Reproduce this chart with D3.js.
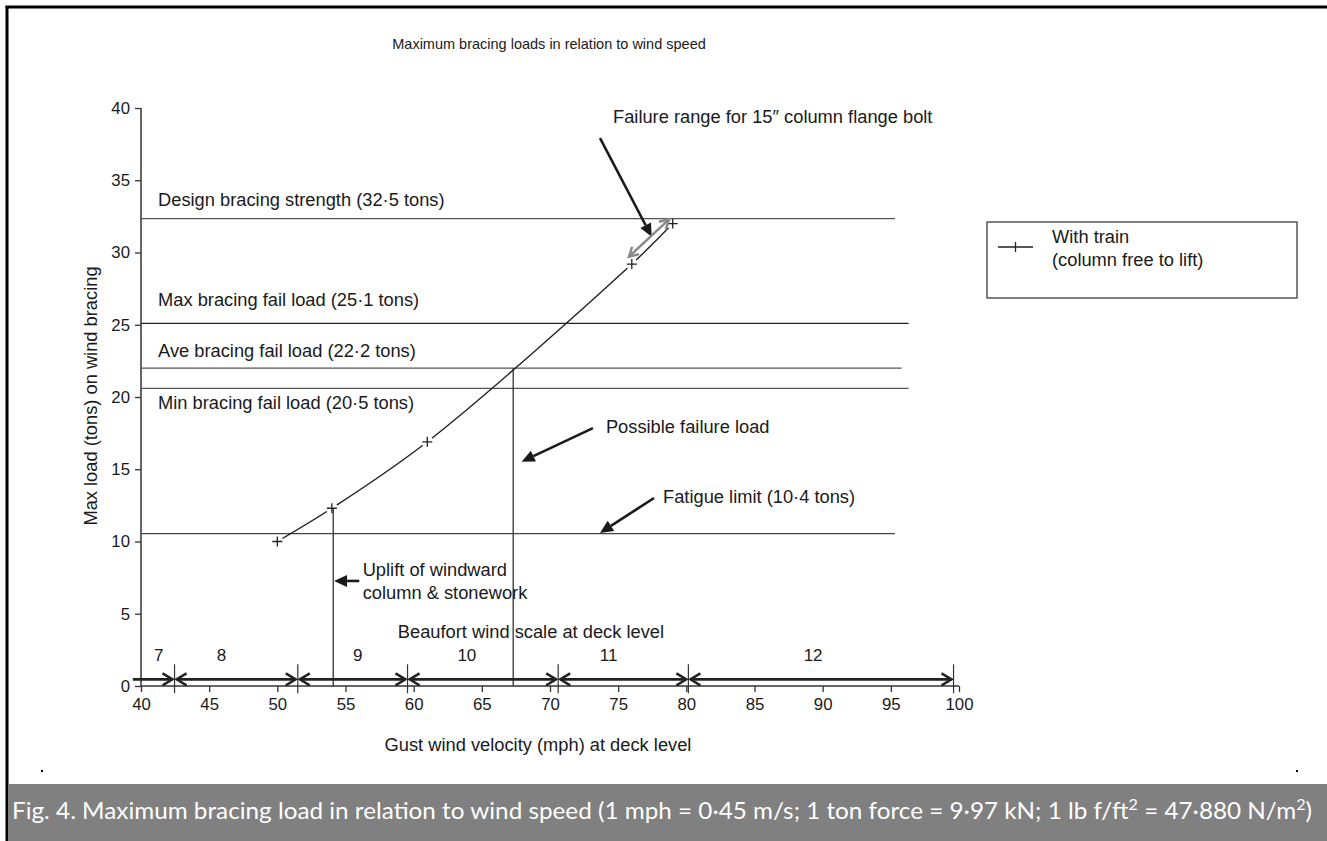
<!DOCTYPE html>
<html>
<head>
<meta charset="utf-8">
<script src="https://cdn.jsdelivr.net/npm/d3@7"></script>
<style>
  html, body { margin: 0; padding: 0; background: #fff; }
  svg { display: block; }
  text { font-family: "Liberation Sans", Arial, Helvetica, sans-serif; fill: #1a1a1a; }
</style>
</head>
<body>
<svg id="chart" width="1327" height="841"></svg>
<script>
// ---------------- DATA ----------------
const titleText = "Maximum bracing loads in relation to wind speed";
const xTicks = [40, 45, 50, 55, 60, 65, 70, 75, 80, 85, 90, 95, 100];
const yTicks = [0, 5, 10, 15, 20, 25, 30, 35, 40];

// "With train (column free to lift)" series
const windSpeed = [50, 54, 61, 76, 79];
const maxLoad   = [10.0, 12.3, 16.9, 29.2, 32.0];

// Horizontal reference loads (tons)
const refNames  = ["Design bracing strength (32·5 tons)", "Max bracing fail load (25·1 tons)",
                   "Ave bracing fail load (22·2 tons)", "Min bracing fail load (20·5 tons)", ""];
const refLoads  = [32.35, 25.1, 22.0, 20.6, 10.55];
const refEnds   = [95.3, 96.3, 95.8, 96.3, 95.3];
const refColors = ["#555", "#222", "#555", "#555", "#444"];
const refLabelY = [33.2, 26.3, 22.77, 19.17, null];

// Vertical markers (mph, from load down to 0)
const vertX    = [54.1, 67.3];
const vertTop  = [12.3, 22.0];

// Beaufort scale
const beaufortNums   = ["7", "8", "9", "10", "11", "12"];
const beaufortBounds = [39.4, 42.46, 51.5, 59.55, 70.6, 80.15, 99.6];
const beaufortLabelX = [41.3, 45.9, 55.9, 63.9, 74.3, 89.3];

// Annotation arrows [x1,y1] -> [x2,y2] in data units (tip at second point)
const noteArrows = [
  [[73.67, 37.92], [77.46, 31.09]],   // flange bolt
  [[73.15, 17.85], [67.92, 15.52]],   // possible failure load
  [[77.63, 13.01], [73.67, 10.59]],   // fatigue limit
  [[56.01, 7.27],  [54.16, 7.27]]     // uplift
];
const failRange = [[75.79, 29.71], [78.73, 32.30]];

const noteTexts = [
  {t: "Failure range for 15″ column flange bolt", x: 74.62, y: 38.96},
  {t: "Possible failure load", x: 74.1, y: 17.5},
  {t: "Fatigue limit (10·4 tons)", x: 78.29, y: 12.66},
  {t: "Uplift of windward", x: 56.26, y: 7.61},
  {t: "column & stonework", x: 56.26, y: 6.02},
  {t: "Beaufort wind scale at deck level", x: 68.6, y: 3.32, anchor: "middle"}
];

// ---------------- DRAW ----------------
const FS = 18.3;
const svg = d3.select("#chart");
const x = d3.scaleLinear().domain([40, 100]).range([141, 959]);
const y = d3.scaleLinear().domain([0, 40]).range([686, 108]);

// outer frame
svg.append("line").attr("x1", 7).attr("x2", 7).attr("y1", 6).attr("y2", 841)
  .attr("stroke", "#000").attr("stroke-width", 3);
svg.append("line").attr("x1", 5.5).attr("x2", 1327).attr("y1", 7).attr("y2", 7)
  .attr("stroke", "#000").attr("stroke-width", 3);

// title
svg.append("text").attr("x", 549).attr("y", 49).attr("text-anchor", "middle")
  .attr("font-size", 14.5).text(titleText);

// axes
const xAxis = svg.append("g").attr("transform", `translate(0,${y(0)})`)
  .call(d3.axisBottom(x).tickValues(xTicks).tickSize(6).tickPadding(6).tickFormat(d3.format("d")));
const yAxis = svg.append("g").attr("transform", `translate(${x(40)},0)`)
  .call(d3.axisLeft(y).tickValues(yTicks).tickSize(6).tickPadding(5).tickFormat(d3.format("d")));
[xAxis, yAxis].forEach(a => {
  a.select(".domain").attr("stroke", "#333").attr("stroke-width", 1.5);
  a.selectAll(".tick line").attr("stroke", "#333").attr("stroke-width", 1.3);
  a.selectAll(".tick text").attr("font-size", 16.8).attr("fill", "#1a1a1a")
    .attr("font-family", "Liberation Sans, Arial, sans-serif");
});
xAxis.select(".domain").attr("d", `M${x(40)},0H${x(100)}`);
yAxis.select(".domain").attr("d", `M0,${y(40)}V${y(0)}`);

// axis titles
svg.append("text").attr("x", 538).attr("y", 751).attr("text-anchor", "middle")
  .attr("font-size", FS).text("Gust wind velocity (mph) at deck level");
svg.append("text").attr("transform", "translate(97,396) rotate(-90)").attr("text-anchor", "middle")
  .attr("font-size", FS).text("Max load (tons) on wind bracing");

// reference lines
refLoads.forEach((v, i) => {
  svg.append("line").attr("x1", x(40)).attr("x2", x(refEnds[i]))
    .attr("y1", y(v)).attr("y2", y(v))
    .attr("stroke", refColors[i]).attr("stroke-width", 1.3);
  if (refLabelY[i] !== null) {
    svg.append("text").attr("x", x(41.25)).attr("y", y(refLabelY[i]))
      .attr("font-size", FS).text(refNames[i]);
  }
});

// vertical lines
vertX.forEach((v, i) => {
  svg.append("line").attr("x1", x(v)).attr("x2", x(v))
    .attr("y1", y(vertTop[i])).attr("y2", y(0))
    .attr("stroke", "#333").attr("stroke-width", 1.3);
});

// curve with gaps around markers
const pts = windSpeed.map((w, i) => [x(w), y(maxLoad[i])]);
const defs = svg.append("defs");
const mask = defs.append("mask").attr("id", "gapmask").attr("maskUnits", "userSpaceOnUse")
  .attr("x", 0).attr("y", 0).attr("width", 1327).attr("height", 841);
mask.append("rect").attr("width", 1327).attr("height", 841).attr("fill", "#fff");
pts.forEach(p => mask.append("circle").attr("cx", p[0]).attr("cy", p[1]).attr("r", 6).attr("fill", "#000"));
const lineGen = d3.line().curve(d3.curveCatmullRom.alpha(0.5));
svg.append("path").attr("d", lineGen(pts)).attr("fill", "none")
  .attr("stroke", "#222").attr("stroke-width", 1.4).attr("mask", "url(#gapmask)");

// markers
svg.selectAll(".mk").data(pts).join("path")
  .attr("d", d => `M${d[0]-5},${d[1]}H${d[0]+5}M${d[0]},${d[1]-5}V${d[1]+5}`)
  .attr("stroke", "#222").attr("stroke-width", 1.3).attr("fill", "none");

// helpers for arrows
function filledArrow(p1, p2, color, w, hl, hw) {
  const [x1, y1] = [x(p1[0]), y(p1[1])], [x2, y2] = [x(p2[0]), y(p2[1])];
  const a = Math.atan2(y2 - y1, x2 - x1);
  const bx = x2 - hl * Math.cos(a), by = y2 - hl * Math.sin(a);
  svg.append("line").attr("x1", x1).attr("y1", y1).attr("x2", bx).attr("y2", by)
    .attr("stroke", color).attr("stroke-width", w);
  const nx = -Math.sin(a) * hw, ny = Math.cos(a) * hw;
  svg.append("path").attr("d", `M${x2},${y2}L${bx + nx},${by + ny}L${bx - nx},${by - ny}Z`)
    .attr("fill", color);
}
function openHead(xt, yt, ang, color, w, hl, hw) {
  const bx = xt - hl * Math.cos(ang), by = yt - hl * Math.sin(ang);
  const nx = -Math.sin(ang) * hw, ny = Math.cos(ang) * hw;
  svg.append("path").attr("d", `M${bx + nx},${by + ny}L${xt},${yt}L${bx - nx},${by - ny}`)
    .attr("fill", "none").attr("stroke", color).attr("stroke-width", w)
    .attr("stroke-linejoin", "miter").attr("stroke-linecap", "butt");
}

noteArrows.forEach(a => filledArrow(a[0], a[1], "#1a1a1a", 2.6, 13, 6));

// failure range double arrow (grey)
{
  const [x1, y1] = [x(failRange[0][0]), y(failRange[0][1])];
  const [x2, y2] = [x(failRange[1][0]), y(failRange[1][1])];
  svg.append("line").attr("x1", x1).attr("y1", y1).attr("x2", x2).attr("y2", y2)
    .attr("stroke", "#888").attr("stroke-width", 2.4);
  const a = Math.atan2(y2 - y1, x2 - x1);
  openHead(x2, y2, a, "#888", 2.4, 9, 5);
  openHead(x1, y1, a + Math.PI, "#888", 2.4, 9, 5);
}

// Beaufort scale
const by0 = 0.46;
beaufortNums.forEach((n, i) => {
  const xa = x(beaufortBounds[i]) + (i === 0 ? 0 : 2);
  const xb = x(beaufortBounds[i + 1]) - 2;
  const yy = y(by0);
  svg.append("line").attr("x1", xa).attr("x2", xb).attr("y1", yy).attr("y2", yy)
    .attr("stroke", "#222").attr("stroke-width", 2.6);
  openHead(xb, yy, 0, "#222", 2.4, 10, 6);
  if (i > 0) openHead(xa, yy, Math.PI, "#222", 2.4, 10, 6);
  svg.append("text").attr("x", x(beaufortLabelX[i])).attr("y", y(1.75))
    .attr("text-anchor", "middle").attr("font-size", 17).text(n);
});
beaufortBounds.slice(1).forEach(b => {
  svg.append("line").attr("x1", x(b)).attr("x2", x(b)).attr("y1", y(1.5)).attr("y2", y(-0.5))
    .attr("stroke", "#333").attr("stroke-width", 1.2);
});

// notes
noteTexts.forEach(n => {
  svg.append("text").attr("x", x(n.x)).attr("y", y(n.y))
    .attr("text-anchor", n.anchor || "start").attr("font-size", FS).text(n.t);
});

// legend
svg.append("rect").attr("x", 987).attr("y", 222).attr("width", 310).attr("height", 76)
  .attr("fill", "#fff").attr("stroke", "#555").attr("stroke-width", 1.5);
svg.append("path").attr("d", "M998,247H1033M1015.5,242V252").attr("stroke", "#222").attr("stroke-width", 1.3);
svg.append("text").attr("x", 1052).attr("y", 243).attr("font-size", FS).text("With train");
svg.append("text").attr("x", 1052).attr("y", 266).attr("font-size", FS).text("(column free to lift)");

// small dots
[[41, 770], [1296, 770]].forEach(d => svg.append("rect").attr("x", d[0]).attr("y", d[1])
  .attr("width", 2).attr("height", 2).attr("fill", "#000"));

// caption band
svg.append("rect").attr("x", 8.5).attr("y", 784).attr("width", 1320).attr("height", 57).attr("fill", "#808080");
const cap = svg.append("text").attr("x", 12).attr("y", 819)
  .attr("font-size", 22.5).attr("textLength", 1300).attr("lengthAdjust", "spacingAndGlyphs")
  .style("fill", "#fff").style("font-family", "Lato, 'Open Sans', sans-serif");
cap.append("tspan").text("Fig. 4. Maximum bracing load in relation to wind speed (1 mph = 0·45 m/s; 1 ton force = 9·97 kN; 1 lb f/ft");
cap.append("tspan").attr("dy", -9).attr("font-size", 15).text("2");
cap.append("tspan").attr("dy", 9).text(" = 47·880 N/m");
cap.append("tspan").attr("dy", -9).attr("font-size", 15).text("2");
cap.append("tspan").attr("dy", 9).text(")");
</script>
</body>
</html>
